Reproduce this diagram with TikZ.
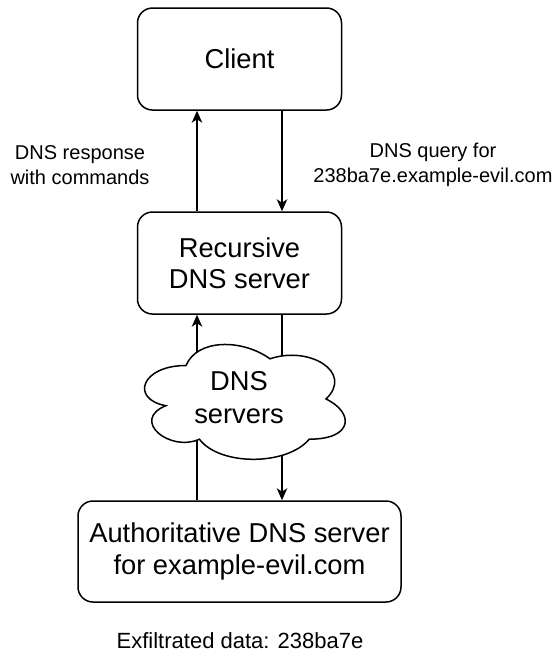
\documentclass[tikz,border=0pt]{standalone}
\usepackage{fontspec}
\setmainfont{Liberation Sans}
\usetikzlibrary{arrows.meta}
\begin{document}
\begin{tikzpicture}[x=1pt,y=-1pt,
  box/.style={draw, line width=1.5pt, rounded corners=15pt, fill=white,
    align=center, inner sep=0pt, font=\fontsize{27.3}{31.5}\selectfont},
  lbl/.style={align=center, inner sep=0pt, font=\fontsize{20}{24.5}\selectfont},
  link/.style={line width=1.5pt},
  arr/.style={link, -{Stealth[length=12pt,width=10.5pt,inset=3.5pt]}}]
\useasboundingbox (0,0) rectangle (557,657);
\fill[white] (0,0) rectangle (557,657);

% servers
\node[box, minimum width=204pt, minimum height=102pt] (client) at (239.5,59) {Client};
\node[box, minimum width=204pt, minimum height=102pt] (recursive) at (239.5,263) {Recursive\\DNS server};
\node[box, minimum width=323pt, minimum height=101pt] (auth) at (239.5,551.5) {Authoritative DNS server\\for example-evil.com};

% labels
\node[lbl] (resp) at (80,165) {DNS response\\with commands};
\node[lbl] (query) at (433,165) {DNS query for\\238ba7e.example-evil.com};
\node[lbl, font=\fontsize{22}{26}\selectfont] (exfil) at (240,641) {Exfiltrated data: 238ba7e};

% traffic between client and resolver
\draw[arr] ([xshift=-42.5pt]recursive.north) -- ([xshift=-42.5pt]client.south);
\draw[arr] ([xshift=42.5pt]client.south) -- ([xshift=42.5pt]recursive.north);

% traffic between resolver and authoritative server (through the cloud)
\draw[arr] ([xshift=-42.5pt]auth.north) -- ([xshift=-42.5pt]recursive.south);
\draw[arr] ([xshift=42.5pt]recursive.south) -- ([xshift=42.5pt]auth.north);

% cloud of intermediate DNS servers
\draw[line width=1.5pt, fill=white]
  (186,365.5)
  .. controls (141.2,365.5) and (130,399) .. (165.8,405.7)
  .. controls (130,420.4) and (170.3,452.6) .. (199.4,439.2)
  .. controls (219.6,466) and (286.8,466) .. (309.2,439.2)
  .. controls (354,439.2) and (354,412.4) .. (326,399)
  .. controls (354,372.2) and (309.2,345.4) .. (270,358.8)
  .. controls (242,338.7) and (197.2,338.7) .. (186,365.5) -- cycle;
\node[align=center, inner sep=0pt, font=\fontsize{27.3}{33}\selectfont] (cloud) at (239,398) {DNS\\servers};
\end{tikzpicture}
\end{document}
